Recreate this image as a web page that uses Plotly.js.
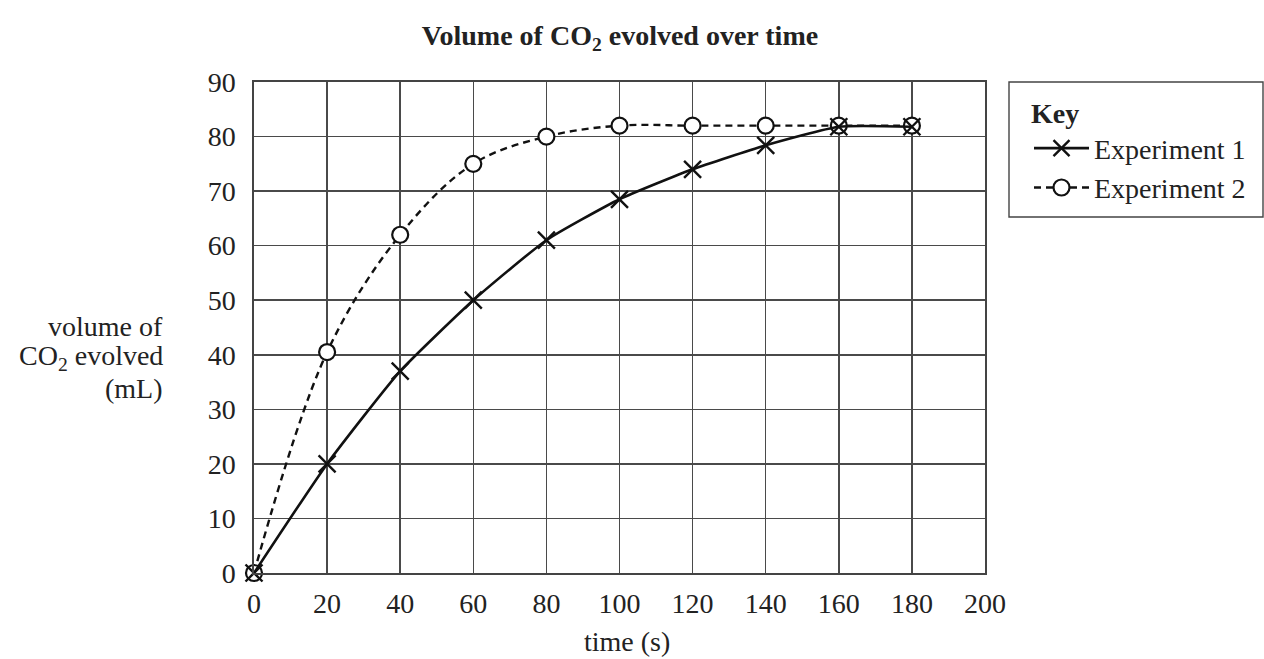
<!DOCTYPE html>
<html>
<head>
<meta charset="utf-8">
<script src="https://cdn.plot.ly/plotly-3.0.1.min.js"></script>
<style>html,body{margin:0;padding:0;background:#fff;}#chart{width:1264px;height:659px;}</style>
</head>
<body>
<div id="chart"></div>
<script>
const timeS = [0, 20, 40, 60, 80, 100, 120, 140, 160, 180];
const experiment1 = [0, 20, 37, 50, 61, 68.5, 74, 78.4, 81.8, 81.8];
const experiment2 = [0, 40.5, 62, 75, 80, 82, 82, 82, 82, 82];
const xTicks = [0, 20, 40, 60, 80, 100, 120, 140, 160, 180, 200];
const yTicks = [0, 10, 20, 30, 40, 50, 60, 70, 80, 90];
const yTitleLines = ['volume of', 'CO<sub>2</sub> evolved', '(mL)'];

const serif = "Liberation Serif, Times New Roman, serif";
const txt = '#222';
const FS = 28;

const traces = [
  {
    x: timeS, y: experiment2, name: 'Experiment 2', type: 'scatter', mode: 'lines+markers',
    cliponaxis: false,
    line: {color: '#111', width: 2.4, dash: '7px,5px', shape: 'spline', smoothing: 1},
    marker: {symbol: 'circle', size: 16, color: '#fff', line: {color: '#111', width: 2.2}},
    legendrank: 2
  },
  {
    x: timeS, y: experiment1, name: 'Experiment 1', type: 'scatter', mode: 'lines+markers',
    cliponaxis: false,
    line: {color: '#111', width: 2.6, shape: 'spline', smoothing: 0.5},
    marker: {symbol: 'x-thin', size: 17, color: '#111', line: {color: '#111', width: 2.4}},
    legendrank: 1
  }
];

const annotations = yTitleLines.map((t, i) => ({
  text: t, xref: 'paper', yref: 'paper',
  x: (165 - 254) / 731, xanchor: 'right',
  y: (573 - (326 + i * 31)) / 491, yanchor: 'middle', align: 'right', showarrow: false,
  font: {family: serif, size: FS, color: txt}
}));
annotations.push({
  text: 'time (s)', xref: 'paper', yref: 'paper',
  x: (627 - 254) / 731, xanchor: 'center', y: (573 - 641) / 491, yanchor: 'middle',
  showarrow: false, font: {family: serif, size: FS, color: txt}
});

const layout = {
  width: 1264, height: 659,
  margin: {l: 254, r: 279, t: 82, b: 86},
  paper_bgcolor: '#fff', plot_bgcolor: '#fff',
  font: {family: serif, size: FS, color: txt},
  title: {text: '<b>Volume of CO<sub>2</sub> evolved over time</b>', x: 620 / 1264, xanchor: 'center', xref: 'container',
          y: 1 - 35 / 659, yanchor: 'middle', font: {family: serif, size: FS, color: txt}},
  xaxis: {
    range: [0, 200], tickmode: 'array', tickvals: xTicks, ticktext: xTicks.map(String),
    showgrid: true, gridcolor: '#4a4a4a', gridwidth: 1.5, zeroline: false,
    showline: true, linecolor: '#444', linewidth: 1.6, mirror: true, ticks: '',
    ticklabelstandoff: 5, tickfont: {family: serif, size: FS, color: txt},
    fixedrange: true
  },
  yaxis: {
    range: [0, 90], tickmode: 'array', tickvals: yTicks, ticktext: yTicks.map(String),
    showgrid: true, gridcolor: '#4a4a4a', gridwidth: 1.5, zeroline: false,
    showline: true, linecolor: '#444', linewidth: 1.6, mirror: true, ticks: '',
    ticklabelstandoff: 11, tickfont: {family: serif, size: FS, color: txt},
    fixedrange: true
  },
  showlegend: true,
  legend: {
    x: (1029 - 254) / 731, xanchor: 'left', y: (573 - 87) / 491, yanchor: 'top',
    bgcolor: 'rgba(0,0,0,0)', borderwidth: 0,
    font: {family: serif, size: FS, color: txt},
    title: {text: '<b>Key</b>', font: {family: serif, size: FS, color: txt}, side: 'top'},
    itemwidth: 55, tracegroupgap: 0, traceorder: 'normal'
  },
  shapes: [
    {type: 'rect', xref: 'paper', yref: 'paper', x0: (1009 - 254) / 731, x1: (1263 - 254) / 731, y0: (573 - 217) / 491, y1: 1,
     line: {color: '#444', width: 1.4}, fillcolor: 'rgba(0,0,0,0)'}
  ],
  annotations: annotations
};

Plotly.newPlot('chart', traces, layout, {displayModeBar: false, staticPlot: true});
</script>
</body>
</html>
